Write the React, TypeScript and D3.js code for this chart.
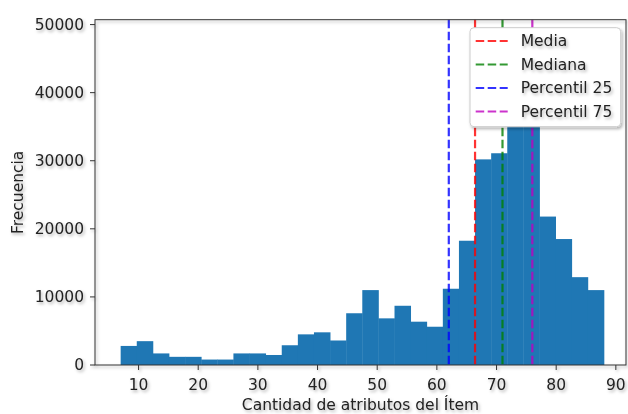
import React from "react";
import * as d3 from "d3";

const binEdges = [7, 9.7, 12.4, 15.1, 17.8, 20.5, 23.2, 25.9, 28.6, 31.3, 34, 36.7, 39.4, 42.1, 44.8, 47.5, 50.2, 52.9, 55.6, 58.3, 61, 63.7, 66.4, 69.1, 71.8, 74.5, 77.2, 79.9, 82.6, 85.3, 88];
const counts = [2800, 3500, 1700, 1200, 1200, 800, 800, 1700, 1700, 1470, 2900, 4500, 4800, 3600, 7600, 11000, 6850, 8700, 6360, 5620, 11200, 18250, 30200, 31100, 42000, 48300, 21800, 18500, 12900, 11000];
const xTicks = [10, 20, 30, 40, 50, 60, 70, 80, 90];
const yTicks = [0, 10000, 20000, 30000, 40000, 50000];
const refLabels = ["Media", "Mediana", "Percentil 25", "Percentil 75"];
const refValues = [66.4, 71, 62, 76];
const refColors = ["#ff0000", "#008000", "#0000ff", "#bf00bf"];

const W = 628, H = 414;
const L = 95, R = 626, T = 19.7, B = 365;
const FONT = "DejaVu Sans, sans-serif";
const FS = 15.5;
const TXT = "#222";

export default function App() {
  const x = d3.scaleLinear().domain([2.7, 91.7]).range([L, R]);
  const yMax = (d3.max(counts) as number) * 1.05;
  const y = d3.scaleLinear().domain([0, yMax]).range([B, T]);
  const legX = 470, legY = 27.7, legW = 150.7, legH = 99;
  const rowY = [41, 64.5, 88, 111.5];
  return (
    <svg width={W} height={H} style={{ position: "absolute", left: 0, top: 0, background: "#fff" }} fontFamily={FONT}>
      <defs>
        <filter id="sh" x="-30%" y="-30%" width="160%" height="160%">
          <feDropShadow dx="1.5" dy="2" stdDeviation="1.6" floodColor="#000" floodOpacity="0.3" />
        </filter>
      </defs>
      <rect x={0} y={0} width={W} height={H} fill="#fff" />
      {/* bars */}
      <g>
        {counts.map((c, i) => (
          <rect key={i} x={x(binEdges[i])} y={y(c)} width={x(binEdges[i + 1]) - x(binEdges[i]) + 0.4} height={B - y(c)} fill="#1f77b4" />
        ))}
      </g>
      {/* reference lines */}
      {refValues.map((v, i) => (
        <line key={i} x1={x(v)} x2={x(v)} y1={T} y2={B} stroke={refColors[i]} strokeOpacity={0.8} strokeWidth={2.2} strokeDasharray="8.5,3.5" />
      ))}
      {/* axes */}
      <g filter="url(#sh)">
        <rect x={L} y={T} width={R - L} height={B - T} fill="none" stroke="#333" strokeWidth={1} />
        {xTicks.map((t) => (
          <g key={t}>
            <line x1={x(t)} x2={x(t)} y1={B} y2={B + 5} stroke="#333" />
            <text x={x(t)} y={390} textAnchor="middle" fontSize={FS} fill={TXT}>{t}</text>
          </g>
        ))}
        {yTicks.map((t) => (
          <g key={t}>
            <line x1={L - 5} x2={L} y1={y(t)} y2={y(t)} stroke="#333" />
            <text x={L - 11} y={y(t)} textAnchor="end" dominantBaseline="central" fontSize={FS} fill={TXT}>{t}</text>
          </g>
        ))}
        <text x={(L + R) / 2} y={410} textAnchor="middle" fontSize={FS} fill={TXT}>Cantidad de atributos del Ítem</text>
        <text transform={`translate(18,${(T + B) / 2}) rotate(-90)`} textAnchor="middle" dominantBaseline="central" fontSize={FS} fill={TXT}>Frecuencia</text>
      </g>
      {/* legend */}
      <g>
        <rect x={legX} y={legY} width={legW} height={legH} rx={4} fill="#fff" stroke="#ccc" filter="url(#sh)" />
        {refLabels.map((lab, i) => (
          <g key={lab}>
            <line x1={475.7} x2={507.7} y1={rowY[i]} y2={rowY[i]} stroke={refColors[i]} strokeOpacity={0.8} strokeWidth={2.2} strokeDasharray="8.5,3.5" />
            <text x={520.7} y={rowY[i]} dominantBaseline="central" fontSize={FS} fill={TXT} filter="url(#sh)">{lab}</text>
          </g>
        ))}
      </g>
    </svg>
  );
}
